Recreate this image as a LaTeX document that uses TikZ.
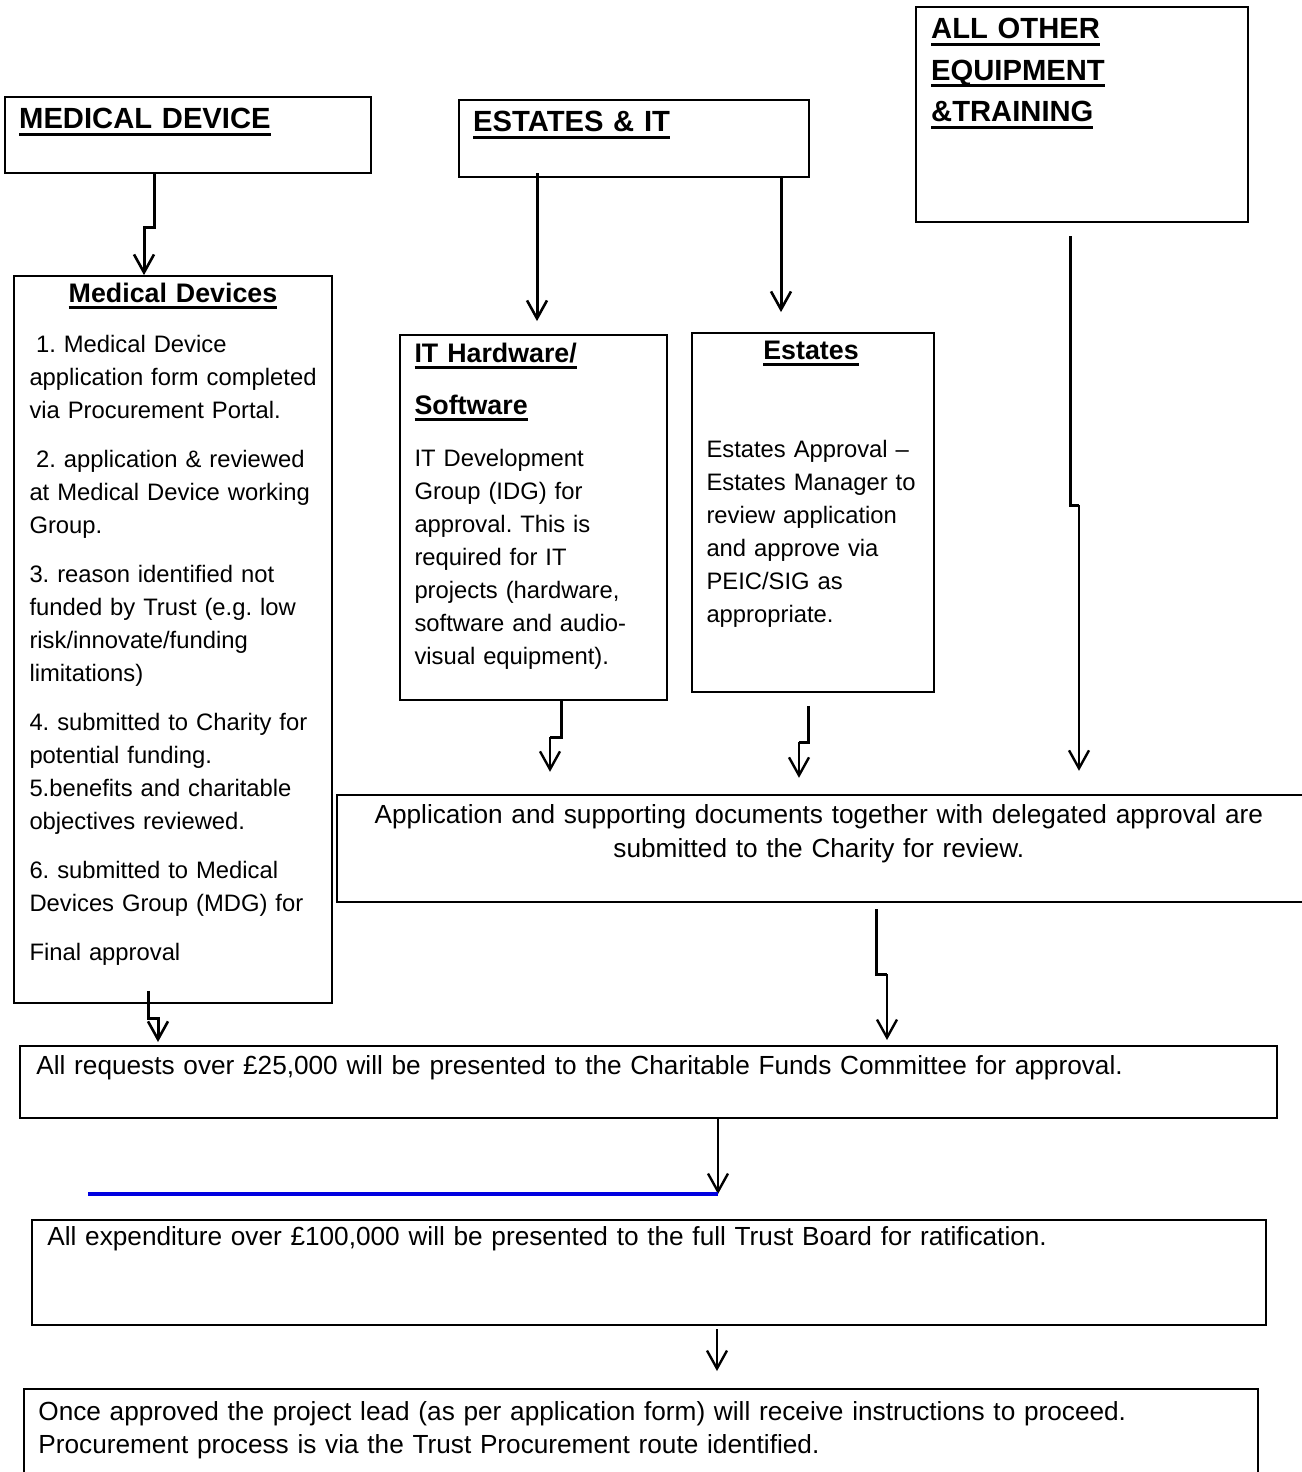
\documentclass[tikz,border=0pt]{standalone}
\usepackage{fontspec}
\setmainfont{Liberation Sans}
\usepackage{xcolor}
\usepackage{tikz}
\usetikzlibrary{arrows.meta, positioning, calc, fit}
\definecolor{lineblue}{RGB}{0, 0, 224}
\newsavebox{\ulbox}
\newcommand{\headul}[1]{\leavevmode\sbox{\ulbox}{#1}\rlap{\rule[-0.24em]{\wd\ulbox}{0.11em}}\usebox{\ulbox}}
\frenchspacing

\begin{document}
\begin{tikzpicture}[x=0.5pt, y=-0.5pt,
    box/.style={draw=black, line width=1.2pt, inner sep=0pt},
    thinbox/.style={draw=black, line width=0.9pt, inner sep=0pt},
    body/.style={inner sep=0pt, text width=300pt, align=left, font=\fontsize{11.9pt}{16.5pt}\selectfont},
    wide/.style={inner sep=0pt, text width=640pt, align=left, font=\fontsize{13.1pt}{17pt}\selectfont},
    head/.style={inner sep=0pt, text width=200pt, align=left, font=\fontsize{14.6pt}{20.75pt}\selectfont\bfseries},
    subhead/.style={inner sep=0pt, text width=150pt, align=left, font=\fontsize{13.4pt}{26pt}\selectfont\bfseries},
    link/.style={line width=1.5pt},
    flow/.style={line width=1.5pt, -{Straight Barb[length=9pt, width=10pt, line width=1.3pt]}},
    thinflow/.style={line width=1.1pt, -{Straight Barb[length=9pt, width=10pt, line width=1.2pt]}}]
    \useasboundingbox (0,0) rectangle (1301,1472);

    % top row
    \node[box, fit={(5,97) (371,173)}] (medical) {};
    \node[head, anchor=base west] (medicalhd) at ($(medical.north west)+(15,33)$) {\headul{MEDICAL DEVICE}};
    \node[box, fit={(459,100) (809,177)}] (estatesit) {};
    \node[head, anchor=base west] (estatesithd) at ($(estatesit.north west)+(15,33)$) {\headul{ESTATES \& IT}};
    \node[box, fit={(916,7) (1248,222)}] (allother) {};
    \node[head, anchor=base west] (allotherhd) at ($(allother.north west)+(16,33)$) {\headul{ALL OTHER}\\\headul{EQUIPMENT}\\\headul{\&TRAINING}};

    % middle row
    \node[thinbox, fit={(14,276) (332,1003)}] (meddevs) {};
    \node[subhead, align=center, anchor=base] (meddevshd) at ($(meddevs.north)+(0,27)$) {\headul{Medical Devices}};
    \node[body, anchor=base west] (meddevstxt) at ($(meddevs.north west)+(16,77)$) {%
        \hspace*{0.278em}1. Medical Device\\
        application form completed\\
        via Procurement Portal.\\[8pt]
        \hspace*{0.278em}2. application \& reviewed\\
        at Medical Device working\\
        Group.\\[8pt]
        3. reason identified not\\
        funded by Trust (e.g. low\\
        risk/innovate/funding\\
        limitations)\\[8pt]
        4. submitted to Charity for\\
        potential funding.\\
        5.benefits and charitable\\
        objectives reviewed.\\[8pt]
        6. submitted to Medical\\
        Devices Group (MDG) for\\[8pt]
        Final approval};
    \node[thinbox, fit={(400,335) (667,700)}] (ithw) {};
    \node[subhead, anchor=base west] (ithwhd) at ($(ithw.north west)+(15,28)$) {\headul{IT Hardware/}\\\headul{Software}};
    \node[body, anchor=base west] (ithwtxt) at ($(ithw.north west)+(15,132)$) {%
        IT Development\\
        Group (IDG) for\\
        approval. This is\\
        required for IT\\
        projects (hardware,\\
        software and audio-\\
        visual equipment).};
    \node[thinbox, fit={(692,333) (934,692)}] (estates) {};
    \node[subhead, align=center, anchor=base] (estateshd) at ($(estates.north)+(-2,27)$) {\headul{Estates}};
    \node[body, anchor=base west] (estatestxt) at ($(estates.north west)+(15,125)$) {%
        Estates Approval –\\
        Estates Manager to\\
        review application\\
        and approve via\\
        PEIC/SIG as\\
        appropriate.};

    % lower boxes
    \node[box, fit={(337,795) (1312,902)}] (charity) {};
    \node[wide, text width=520pt, align=center, anchor=base] (charitytxt) at ($(charity.north west)+(483,30)$) {%
        Application and supporting documents together with delegated approval are\\
        submitted to the Charity for review.};
    \node[box, line width=1pt, fit={(20,1046) (1277,1118)}] (cfc) {};
    \node[wide, anchor=base west] (cfctxt) at ($(cfc.north west)+(17,29)$) {All requests over £25,000 will be presented to the Charitable Funds Committee for approval.};
    \node[box, line width=1pt, fit={(32,1220) (1266,1325)}] (board) {};
    \node[wide, anchor=base west] (boardtxt) at ($(board.north west)+(16,26)$) {All expenditure over £100,000 will be presented to the full Trust Board for ratification.};
    \node[box, line width=1pt, fit={(24,1389) (1258,1490)}] (proceed) {};
    \node[wide, anchor=base west, font=\fontsize{13.1pt}{16.5pt}\selectfont] (proceedtxt) at ($(proceed.north west)+(15,32)$) {%
        Once approved the project lead (as per application form) will receive instructions to proceed.\\
        Procurement process is via the Trust Procurement route identified.};

    % connectors
    \coordinate (mdjog1) at (154,227);
    \coordinate (mdjog2) at (144,227);
    \draw[flow] (mdjog1 |- medical.south) -- (mdjog1) -- (mdjog2) -- (mdjog2 |- meddevs.north);

    \coordinate (itcol) at (537,0);
    \coordinate (escol) at (781,0);
    \draw[flow] ($(itcol |- estatesit.south)+(0,-5)$) -- ($(itcol |- ithw.north)+(0,-13)$);
    \draw[flow] (escol |- estatesit.south) -- ($(escol |- estates.north)+(0,-20)$);

    \coordinate (aojog1) at (1070,505);
    \coordinate (aojog2) at (1079,505);
    \draw[link] ($(aojog1 |- allother.south)+(0,13)$) -- (aojog1) -- (aojog2);
    \draw[thinflow] (aojog2) -- ($(aojog2 |- charity.north)+(0,-23)$);

    \coordinate (itjog1) at (561,737);
    \coordinate (itjog2) at (550,737);
    \draw[link] (itjog1 |- ithw.south) -- (itjog1) -- (itjog2);
    \draw[thinflow] (itjog2) -- ($(itjog2 |- charity.north)+(0,-22)$);

    \coordinate (esjog1) at (808,742);
    \coordinate (esjog2) at (799,742);
    \draw[link] ($(esjog1 |- estates.south)+(0,13)$) -- (esjog1) -- (esjog2);
    \draw[thinflow] (esjog2) -- ($(esjog2 |- charity.north)+(0,-16)$);

    \coordinate (mdjog3) at (148,1018);
    \coordinate (mdjog4) at (158,1018);
    \draw[flow] ($(mdjog3 |- meddevs.south)+(0,-13)$) -- (mdjog3) -- (mdjog4) -- ($(mdjog4 |- cfc.north)+(0,-3)$);

    \coordinate (chjog1) at (876,974);
    \coordinate (chjog2) at (887,974);
    \draw[link] ($(chjog1 |- charity.south)+(0,6)$) -- (chjog1) -- (chjog2);
    \draw[thinflow] (chjog2) -- ($(chjog2 |- cfc.north)+(0,-5)$);

    \coordinate (bluestart) at (88,1194);
    \coordinate (blueend) at (718,1194);
    \draw[thinflow, line width=1.2pt] (blueend |- cfc.south) -- (blueend);
    \draw[lineblue, line width=2pt] (bluestart) -- (blueend);

    \coordinate (bdcol) at (717,0);
    \draw[thinflow] ($(bdcol |- board.south)+(0,3)$) -- ($(bdcol |- proceed.north)+(0,-17)$);
\end{tikzpicture}
\end{document}
